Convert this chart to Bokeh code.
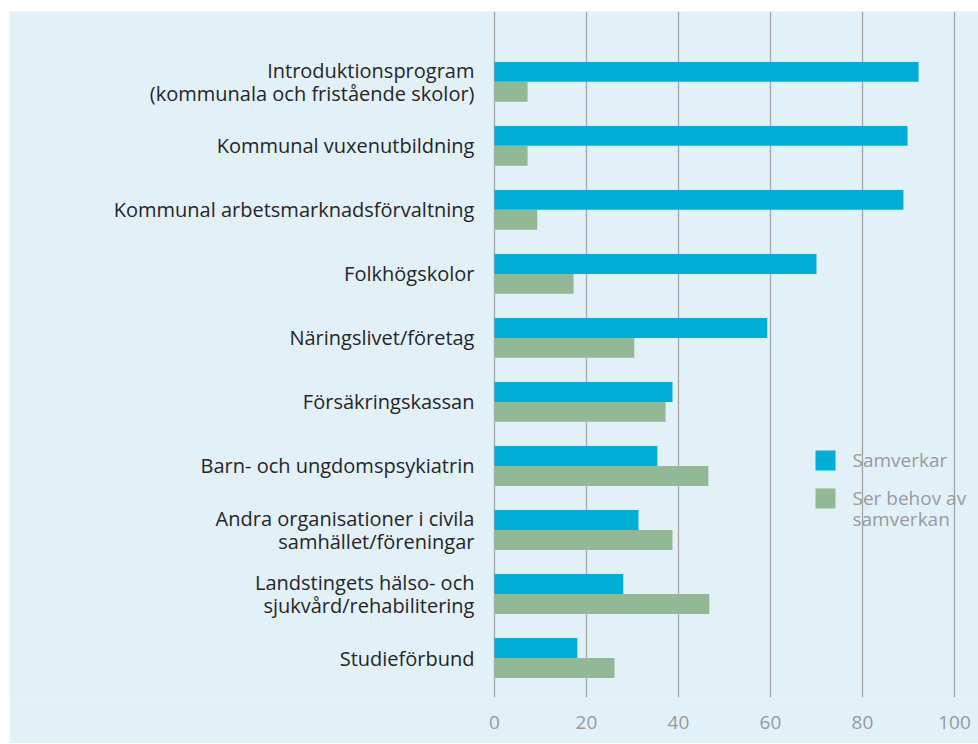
import numpy as np
from bokeh.plotting import figure
from bokeh.models import (Range1d, FixedTicker, ColumnDataSource, Spacer,
                          BoxAnnotation, Label)
from bokeh.layouts import column, row
from bokeh.core.properties import value
from bokeh.embed import file_html
from bokeh.resources import INLINE

categories = [
    "Introduktionsprogram\n(kommunala och fristående skolor)",
    "Kommunal vuxenutbildning",
    "Kommunal arbetsmarknadsförvaltning",
    "Folkhögskolor",
    "Näringslivet/företag",
    "Försäkringskassan",
    "Barn- och ungdomspsykiatrin",
    "Andra organisationer i civila\nsamhället/föreningar",
    "Landstingets hälso- och\nsjukvård/rehabilitering",
    "Studieförbund",
]
samverkar = [92.2, 89.8, 88.9, 70.0, 59.3, 38.7, 35.4, 31.3, 28.0, 18.0]
ser_behov = [7.2, 7.2, 9.3, 17.2, 30.4, 37.2, 46.5, 38.7, 46.7, 26.1]
x_ticks = [0, 20, 40, 60, 80, 100]
series_names = ["Samverkar", "Ser behov av\nsamverkan"]

BG = "#e2f0f8"
BLUE = "#00afd8"
GREEN = "#93b895"

n = len(categories)
ypos = np.arange(n)[::-1].astype(float)

src = ColumnDataSource(dict(
    y=ypos,
    y_top=ypos + 0.156,
    y_bot=ypos - 0.156,
    s=samverkar,
    b=ser_behov,
    cat=categories,
    zero=np.zeros(n),
))

p = figure(width=969, height=732, output_backend="svg", toolbar_location=None,
           x_range=Range1d(-105.43, 105.22), y_range=Range1d(-0.617, 10.1),
           min_border_left=0, min_border_right=0, min_border_top=0, min_border_bottom=46)
p.background_fill_color = BG
p.border_fill_color = BG
p.outline_line_color = None

r1 = p.hbar(y="y_top", right="s", left=0, height=0.31, source=src, fill_color=BLUE, line_color=None)
r2 = p.hbar(y="y_bot", right="b", left=0, height=0.31, source=src, fill_color=GREEN, line_color=None)

p.text(x="zero", y="y", text="cat", source=src, x_offset=-20, text_align="right",
       text_baseline="middle", text_font=value("Open Sans"), text_font_size="20px",
       text_color="#262626", text_line_height=0.83)

p.xaxis.ticker = FixedTicker(ticks=x_ticks)
p.xaxis.axis_line_color = None
p.xaxis.major_tick_line_color = None
p.xaxis.minor_tick_line_color = None
p.xaxis.major_label_text_font = "Open Sans"
p.xaxis.major_label_text_font_size = "19px"
p.xaxis.major_label_text_color = "#9a9a9a"
p.xaxis.major_label_standoff = 12
p.yaxis.visible = False

p.xgrid.ticker = FixedTicker(ticks=x_ticks)
p.xgrid.grid_line_color = "#a6a6a6"
p.xgrid.grid_line_width = 1.3
p.ygrid.grid_line_color = None

# legend (frame screen coordinates, origin bottom-left of frame)
leg_colors = [BLUE, GREEN]
leg_tops = [247, 209]
leg_text_y = [238, 189]
for name, col, top, ty in zip(series_names, leg_colors, leg_tops, leg_text_y):
    p.add_layout(BoxAnnotation(left=806, right=826, top=top, bottom=top - 20,
                               left_units="screen", right_units="screen",
                               top_units="screen", bottom_units="screen",
                               fill_color=col, fill_alpha=1, line_color=None))
    p.add_layout(Label(x=843, y=ty, x_units="screen", y_units="screen", text=name,
                       text_font="Open Sans", text_font_size="19px",
                       text_color="#9a9a9a", text_baseline="middle",
                       text_line_height=0.81))

layout = row(Spacer(width=9, height=10), column(Spacer(height=11, width=10), p, spacing=0), spacing=0)
open("out.html", "w").write(file_html(layout, INLINE))
